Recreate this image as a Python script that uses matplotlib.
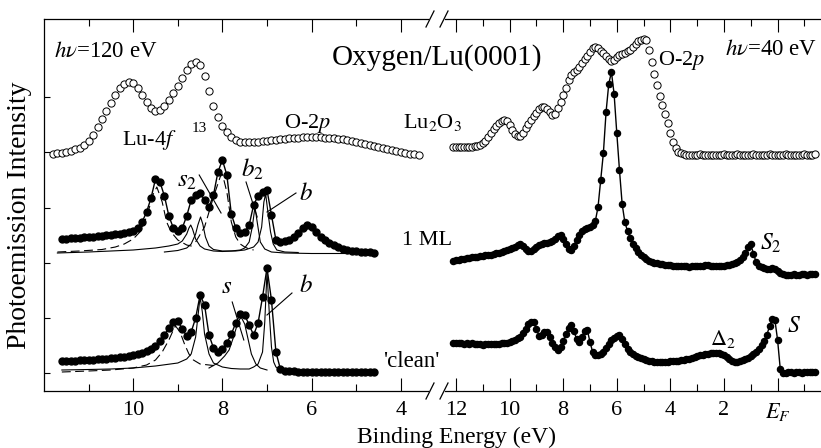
import numpy as np
import matplotlib.pyplot as plt
from matplotlib.lines import Line2D

plt.rcParams['font.family'] = ['Liberation Serif', 'DejaVu Serif']
plt.rcParams['mathtext.fontset'] = 'stix'


def grid(start, n):
    # energy grid, 0.1 eV steps going down from start
    return np.round(start - 0.1 * np.arange(n), 2)


# ---- hv = 120 eV (left panel), intensity in arb. units incl. offsets ----
lt_oxide = [238, 238.5, 239, 240, 241, 242.5, 244, 247, 251, 257,
            265, 273, 281, 289, 297, 304, 308, 310, 309, 304,
            297, 290, 284, 281, 282, 286, 292, 299, 306, 314,
            322, 328, 330, 327, 316, 301, 286, 275, 266, 260,
            255, 252, 250, 249.5, 249.5, 250, 250, 250.5, 251, 251.5,
            252, 252.5, 253, 253.5, 254, 254, 254.5, 254.5, 254.5, 254.5,
            254.5, 254, 254, 253.5, 253, 252.5, 252, 251, 250, 249,
            248, 247, 246, 245, 244, 243, 242, 241, 240, 239,
            238, 237.5, 237]
lt_start = 11.8

lm_1ml = [153, 153, 153.5, 154, 154, 154.5, 155, 155, 155.5, 156,
          156.5, 157, 157.5, 158, 159, 160, 161, 164, 170, 180,
          194, 213, 210, 196, 176, 164, 161, 164, 176, 192,
          197, 199, 192, 185, 197, 220, 232, 217, 178, 164,
          159, 160, 167, 187, 196, 200, 202, 177, 152, 150,
          151, 152, 155, 159, 164, 167, 165, 160, 155, 152,
          149, 147, 145, 143, 142, 141, 140.5, 140, 140, 139.5,
          139]
lm_start = 11.6

lb_clean = [31, 31, 31.5, 31.5, 32, 32, 32.5, 32.5, 33, 33,
            33.5, 34, 34.5, 35, 35.5, 36, 37, 38, 39, 41,
            43, 46, 51, 57, 64, 70, 71, 63, 56, 60,
            74, 97, 87, 57, 44, 40, 43, 49, 58, 69,
            78, 77, 67, 57, 69, 95, 124, 92, 40, 23,
            21.5, 21, 21, 20.5, 20.5, 20.5, 20.5, 20.5, 20.5, 20.5,
            20.5, 20.5, 20.5, 20.5, 20.5, 20.5, 20.5, 20.5, 20.5, 20.5,
            20.5]
lb_start = 11.6

# fitted components (thin lines)
ml_fit1_e = [11.7, 11.0, 10.5, 10.0, 9.5, 9.2, 9.0, 8.9, 8.8, 8.75, 8.71, 8.67, 8.6, 8.5,
             8.4, 8.2, 8.0, 7.8, 7.6, 7.5, 7.4, 7.33, 7.27, 7.22, 7.15, 7.05, 6.9, 6.6,
             6.0, 5.0, 4.6]
ml_fit1_i = [139, 140, 141, 142, 144, 146, 148, 151, 158, 164, 167, 163, 153, 146,
             143, 141, 140.5, 141, 142, 144, 150, 165, 185, 170, 150, 143, 140, 139,
             138.5, 138.5, 138.5]
ml_fit2_e = [9.3, 9.0, 8.8, 8.7, 8.6, 8.55, 8.49, 8.44, 8.38, 8.3, 8.2, 8.0, 7.7, 7.5,
             7.3, 7.2, 7.12, 7.07, 7.03, 6.98, 6.92, 6.86, 6.78, 6.6, 6.3]
ml_fit2_i = [140, 141.5, 144, 148, 158, 167, 175, 168, 155, 146, 142.5, 141, 141, 142,
             145, 150, 165, 190, 198, 180, 160, 148, 142, 140, 139.5]
ml_dash1_e = [11.7, 11.2, 10.7, 10.4, 10.2, 10.0, 9.85, 9.7, 9.55, 9.47, 9.35, 9.25,
              9.15, 9.0, 8.8, 8.6]
ml_dash1_i = [140, 141, 142.5, 145, 148, 153, 160, 175, 198, 205, 190, 170,
              160, 152, 147, 145]
ml_dash2_e = [8.6, 8.4, 8.2, 8.05, 8.0, 7.9, 7.8, 7.7, 7.6, 7.5, 7.4, 7.3]
ml_dash2_i = [150, 165, 195, 215, 218, 200, 170, 155, 148, 145, 143, 142]

cl_fit1_e = [11.6, 11.0, 10.5, 10.0, 9.5, 9.0, 8.8, 8.7, 8.6, 8.55, 8.5, 8.45, 8.4,
             8.3, 8.2, 8.0, 7.8, 7.6, 7.4, 7.3, 7.2, 7.1, 7.05, 7.0, 6.95, 6.9, 6.85,
             6.8, 6.7, 6.5, 6.0, 4.6]
cl_fit1_i = [22, 22.5, 23, 24, 26, 29, 33, 38, 55, 75, 95, 80, 58,
             38, 29, 25, 23.5, 23, 23, 25, 28, 40, 70, 120, 80, 45, 30,
             25, 22, 21, 20.5, 20]
cl_dash_e = [11.6, 11.0, 10.5, 10.0, 9.7, 9.5, 9.35, 9.2, 9.1, 9.05, 8.95, 8.85,
             8.75, 8.65, 8.5, 8.3, 8.1]
cl_dash_i = [20, 21, 22, 24, 27, 32, 40, 52, 62, 66, 60, 48,
             38, 32, 28, 27, 26]
cl_fit_s_e = [8.3, 8.1, 7.95, 7.85, 7.75, 7.65, 7.58, 7.5, 7.42, 7.35, 7.25, 7.15, 7.0]
cl_fit_s_i = [24, 29, 36, 42, 55, 70, 75, 68, 52, 38, 28, 24, 22]

# ---- hv = 40 eV (right panel) ----
rt_oxide = [245, 245, 244.5, 244.5, 244.5, 244.5, 244.5, 245, 245.5, 246,
            247, 248.5, 251, 254.5, 258.5, 262.5, 266, 269, 271, 272,
            270.5, 267, 262, 258, 255.5, 256, 259, 263.5, 268, 272,
            275.5, 279, 282.5, 285, 284.5, 283, 280, 276.5, 278, 284,
            290, 297, 304, 312, 316.5, 319.5, 322, 325, 329, 333,
            336, 340, 343.5, 345, 343.5, 341, 338.5, 336, 332.5, 330.5,
            332, 334.5, 337, 338, 339, 340.5, 342, 345, 348, 350.5,
            352, 352.5, 351.5, 342, 330, 318, 307, 296, 287, 278,
            269, 259, 250, 244, 240, 238.5, 237.5, 237, 237, 236.5,
            237, 237, 237.5, 237, 237, 236.5, 237, 237, 236.5, 237,
            237, 237.5, 237, 236.5, 237, 237, 237.5, 237, 237, 236.5,
            237, 237, 237.5, 237, 237, 236.5, 237, 237, 237.5, 237,
            237, 236.5, 237, 237, 237.5, 237, 237, 236.5, 237, 237,
            237, 237.5, 237, 237, 237, 237.5]
rm_1ml = [131, 131.5, 132, 132.5, 133, 133.5, 134, 134.5, 135, 135,
          136, 136, 136.5, 137, 137, 138, 138.5, 139, 140, 141,
          142, 143, 144, 145, 146.5, 148, 146, 143, 141, 141,
          143, 145, 147, 148, 148.5, 149, 149.5, 151, 153, 156,
          157, 153, 147.5, 143, 141.5, 146, 152, 157, 160.5, 162.5,
          163.5, 164.5, 166.5, 171, 185, 212, 239, 280, 308, 320,
          298, 259, 222, 188, 170, 161, 154, 148, 144, 140,
          137, 134.5, 132.5, 131, 130, 129, 128.5, 128, 127.5, 127,
          127, 126.5, 126, 126, 126, 125.5, 126, 125.5, 125, 125.5,
          126, 125.5, 126, 126, 126.5, 126.5, 126, 126, 126, 126,
          126, 126, 126.5, 127, 127.5, 128.5, 130, 132, 135, 139,
          145, 148, 138, 130, 126, 124.5, 123.5, 123, 123, 124,
          123, 121, 119, 117.5, 117, 117, 117, 117.5, 117, 117,
          117.5, 117.5, 117, 117.5, 117.5, 117.5]
rb_clean = [49, 49, 49.5, 49, 48.5, 49, 48.5, 49, 48.5, 48,
            48, 47.5, 48, 48, 48, 48, 48.5, 48.5, 49, 49,
            49.5, 50, 51, 52, 54, 55.5, 59, 63, 68, 70,
            70, 63, 56, 57, 60, 60, 55, 49, 45, 42,
            45, 51, 58, 64, 67, 61, 53, 50, 55, 61,
            62, 50, 40, 37, 37.5, 38.5, 40.5, 44, 48, 52,
            54.5, 56.5, 57, 53, 48, 43, 40, 38, 36, 35,
            34, 33, 32, 31.5, 31, 30.5, 30.5, 30.5, 30, 30.5,
            30.5, 31, 31, 31.5, 31.5, 32, 32.5, 33, 33.5, 34.5,
            35, 36, 37, 37.5, 38, 38.5, 39, 39.5, 39.5, 39.5,
            38.5, 37, 35, 33, 31.5, 30.5, 30.5, 31, 32, 33,
            34.5, 36, 38, 40.5, 43, 47, 51, 57, 66, 73,
            72, 52, 23, 19.5, 19.5, 20, 20, 19.5, 20, 20,
            19.5, 20, 20, 20, 20, 20.5]
r_start = 12.1

left_ticks = [10, 8, 6, 4]
left_minor = [11, 9, 7, 5]
right_ticks = [12, 10, 8, 6, 4, 2, 0]
right_labels = ['12', '10', '8', '6', '4', '2', '$E_F$']
right_minor = [11, 9, 7, 5, 3, 1, -1]
y_ticks = [19, 74, 129, 184, 240, 295]

W, H = 821, 448
fig = plt.figure(figsize=(W / 100, H / 100), dpi=100)
ax1 = fig.add_axes([44 / W, 57 / H, 384 / W, 372 / H])
ax2 = fig.add_axes([445 / W, 57 / H, 376 / W, 372 / H])
ax2.patch.set_visible(False)

open_kw = dict(ls='none', marker='o', mfc='white', mec='black', ms=5.2, mew=0.7)
dot_kw = dict(color='black', marker='o', ms=5.0, lw=1.0, zorder=3)
fit_kw = dict(color='black', lw=0.8, zorder=2)
dash_kw = dict(color='black', lw=0.8, zorder=2, dashes=(8, 4))

# left panel
ax1.plot(grid(lt_start, len(lt_oxide)), lt_oxide, **open_kw)
ax1.plot(grid(lm_start, len(lm_1ml)), lm_1ml, **dot_kw)
ax1.plot(grid(lb_start, len(lb_clean)), lb_clean, **dot_kw)
ax1.plot(ml_fit1_e, ml_fit1_i, **fit_kw)
ax1.plot(ml_fit2_e, ml_fit2_i, **fit_kw)
ax1.plot(ml_dash1_e, ml_dash1_i, **dash_kw)
ax1.plot(ml_dash2_e, ml_dash2_i, **dash_kw)
ax1.plot(cl_fit1_e, cl_fit1_i, **fit_kw)
ax1.plot(cl_dash_e, cl_dash_i, **dash_kw)
ax1.plot(cl_fit_s_e, cl_fit_s_i, **fit_kw)

# right panel
ax2.plot(grid(r_start, len(rt_oxide)), rt_oxide, **open_kw)
ax2.plot(grid(r_start, len(rm_1ml)), rm_1ml, color='black', marker='o', ms=4.4, lw=1.0)
ax2.plot(grid(r_start, len(rb_clean)), rb_clean, color='black', marker='o', ms=4.4, lw=1.0)

ax1.set_xlim(12, 3.39)
ax2.set_xlim(12.41, -1.62)
for ax in (ax1, ax2):
    ax.set_ylim(1, 373)
    ax.tick_params(axis='x', which='both', direction='in', top=True,
                   labelsize=16, width=0.8, pad=7)
    ax.tick_params(axis='x', which='major', length=9.5)
    ax.tick_params(axis='x', which='minor', length=5)
    ax.spines['right'].set_visible(False)
    for s in ax.spines.values():
        s.set_linewidth(0.9)

ax1.set_xticks(left_ticks)
ax1.set_xticks(left_minor, minor=True)
ax1.set_yticks(y_ticks)
ax1.tick_params(axis='y', direction='in', length=4.3, width=0.8, labelleft=False)

ax2.spines['left'].set_visible(False)
ax2.set_yticks([])
ax2.set_xticks(right_ticks)
ax2.set_xticklabels(right_labels)
ax2.set_xticks(right_minor, minor=True)

# axis break marks
for xc in (430, 444):
    for yc in (391, 19):
        fig.add_artist(Line2D([(xc - 4) / W, (xc + 4) / W],
                              [1 - (yc + 8) / H, 1 - (yc - 8) / H],
                              color='black', lw=0.9))

ax1.set_ylabel('Photoemission Intensity', fontsize=20)
ax1.yaxis.set_label_coords(-0.03, 0.473)
fig.text(456 / W, 1 - 437 / H, 'Binding Energy (eV)', fontsize=17,
         ha='center', va='center')
fig.text(437 / W, 1 - 58 / H, 'Oxygen/Lu(0001)', fontsize=21,
         ha='center', va='center')

# left annotations
ax1.text(11.78, 335, r'$h\nu$=120 eV', fontsize=16.5, va='baseline')
ax1.text(10.25, 247, 'Lu-4$f$', fontsize=16, va='baseline')
ax1.text(8.68, 260, '13', fontsize=11, va='baseline')
ax1.text(6.62, 264, 'O-2$p$', fontsize=16, va='baseline')
ax1.text(3.95, 264, 'Lu$_2$O$_3$', fontsize=16, va='baseline')
ax1.text(3.97, 147, '1 ML', fontsize=16, va='baseline')
ax1.text(4.40, 25, "'clean'", fontsize=16.5, va='baseline')
ax1.text(9.02, 205, '$s_2$', fontsize=18, va='baseline')
ax1.plot([8.52, 8.03], [217, 179], color='black', lw=0.8)
ax1.text(7.58, 215, '$b_2$', fontsize=18, va='baseline')
ax1.plot([7.47, 7.22], [210, 175], color='black', lw=0.8)
ax1.text(6.28, 192, '$b$', fontsize=18, va='baseline')
ax1.plot([6.35, 7.0], [199, 180], color='black', lw=0.8)
ax1.text(8.03, 99, '$s$', fontsize=18, va='baseline')
ax1.plot([7.78, 7.52], [90, 52], color='black', lw=0.8)
ax1.text(6.28, 100, '$b$', fontsize=18, va='baseline')
ax1.plot([6.44, 7.0], [99, 77], color='black', lw=0.8)

# right annotations
ax2.text(1.96, 337, r'$h\nu$=40 eV', fontsize=16.5, va='baseline')
ax2.text(4.46, 327, 'O-2$p$', fontsize=16, va='baseline')
ax2.text(0.66, 142, '$S_2$', fontsize=17, va='baseline')
ax2.text(-0.35, 60, '$S$', fontsize=17, va='baseline')
ax2.text(2.52, 47, r'$\Delta_2$', fontsize=16, va='baseline')

fig.savefig('out.png', dpi=100)
